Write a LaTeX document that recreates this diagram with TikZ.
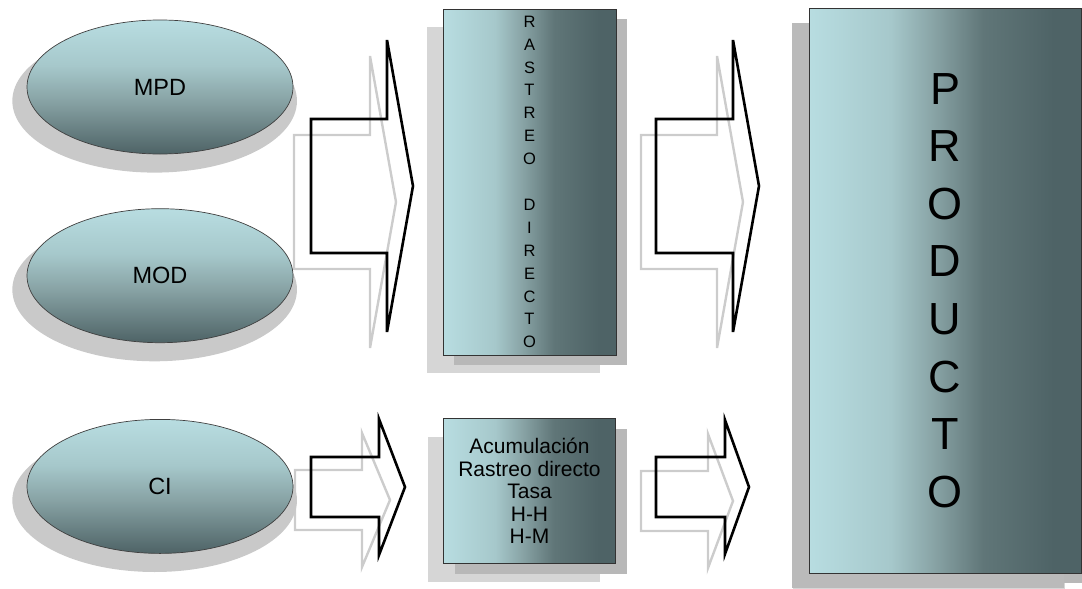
\documentclass[tikz,border=0pt]{standalone}
\usepackage{fontspec}
\setmainfont{Liberation Sans}
\usepackage{tikz}
\usetikzlibrary{positioning, shapes.geometric, shadows}

\definecolor{cianclaro}{RGB}{184,221,225}
\definecolor{cianmedio}{RGB}{166,200,203}
\definecolor{pizarramedio}{RGB}{136,163,165}
\definecolor{pizarraoscuro}{RGB}{96,118,120}
\definecolor{pizarra}{RGB}{78,99,102}

\pgfdeclarehorizontalshading{degradadoh}{100bp}{color(0bp)=(cianclaro); color(25bp)=(cianclaro); color(40bp)=(cianmedio); color(48bp)=(pizarramedio); color(57bp)=(pizarraoscuro); color(70bp)=(pizarra); color(100bp)=(pizarra)}
\pgfdeclareverticalshading{degradadov}{100bp}{color(0bp)=(pizarra); color(25bp)=(pizarra); color(45bp)=(pizarramedio); color(58bp)=(cianmedio); color(75bp)=(cianclaro); color(100bp)=(cianclaro)}

% flecha de bloque: estilo, x cola, x base, x punta, y centro, semiancho cola, semiancho cabeza
\newcommand{\flecha}[7]{\draw[#1] (#2,#5-#6) -- (#3,#5-#6) -- (#3,#5-#7) -- (#4,#5) -- (#3,#5+#7) -- (#3,#5+#6) -- (#2,#5+#6) -- cycle;}

\begin{document}
\begin{tikzpicture}[x=1pt, y=-1pt,
	elipse/.style={ellipse, draw=black!75, line width=0.7pt, shading=degradadov,
		minimum width=266pt, minimum height=134pt, inner sep=0pt,
		font=\fontsize{23.5}{28}\selectfont,
		general shadow={shadow xshift=-5pt, shadow yshift=-13pt, shadow scale=1.07, fill=black!21}},
	caja/.style={rectangle, draw=black!80, line width=0.7pt, shading=degradadoh,
		inner sep=0pt, align=center,
		general shadow={shadow xshift=-16pt, shadow yshift=-18pt, fill=black!16},
		general shadow={shadow xshift=11pt, shadow yshift=-10pt, fill=black!28}},
	flechanegra/.style={draw=black, line width=2.6pt},
	flechagris/.style={draw=black!20, line width=2.4pt}]
	\useasboundingbox (0,0) rectangle (1082,589);
	
	% Flechas (sombra)
	\flecha{flechagris}{294}{370}{396}{202}{67}{146}
	\flecha{flechagris}{641}{717}{743}{202}{67}{146}
	\flecha{flechagris}{295}{362}{390}{500}{30}{67}
	\flecha{flechagris}{641}{708}{733}{501}{30}{67}
	
	% Flechas
	\flecha{flechanegra}{311}{387}{413}{186}{67}{146}
	\flecha{flechanegra}{656}{733}{759}{186}{67}{146}
	\flecha{flechanegra}{311}{379}{405}{487}{30}{68}
	\flecha{flechanegra}{656}{725}{749}{487}{30}{67}
	
	% Elementos del costo
	\node[elipse] (mpd) at (160,87) {MPD};
	\node[elipse, below=54pt of mpd] (mod) {MOD};
	\node[elipse, below=76pt of mod] (ci) {CI};
	
	% Rastreo directo
	\node[caja, minimum width=173pt, minimum height=346pt,
		font=\fontsize{16.5}{22.9}\selectfont] (rastreo) at (529.5,182)
		{R\\A\\S\\T\\R\\E\\O\\~\\D\\I\\R\\E\\C\\T\\O};
	
	% Asignacion de CI
	\node[caja, minimum width=172pt, minimum height=145pt, below=63pt of rastreo,
		font=\fontsize{21}{22.5}\selectfont] (metodos)
		{Acumulación\\Rastreo directo\\Tasa\\H-H\\H-M};
	
	% Producto
	\node[caja, minimum width=272pt, minimum height=565pt,
		general shadow={shadow xshift=-17pt, shadow yshift=-15pt, fill=black!27},
		font=\fontsize{45}{57.6}\selectfont] (producto) at (945,290.5)
		{P\\R\\O\\D\\U\\C\\T\\O};
\end{tikzpicture}
\end{document}
